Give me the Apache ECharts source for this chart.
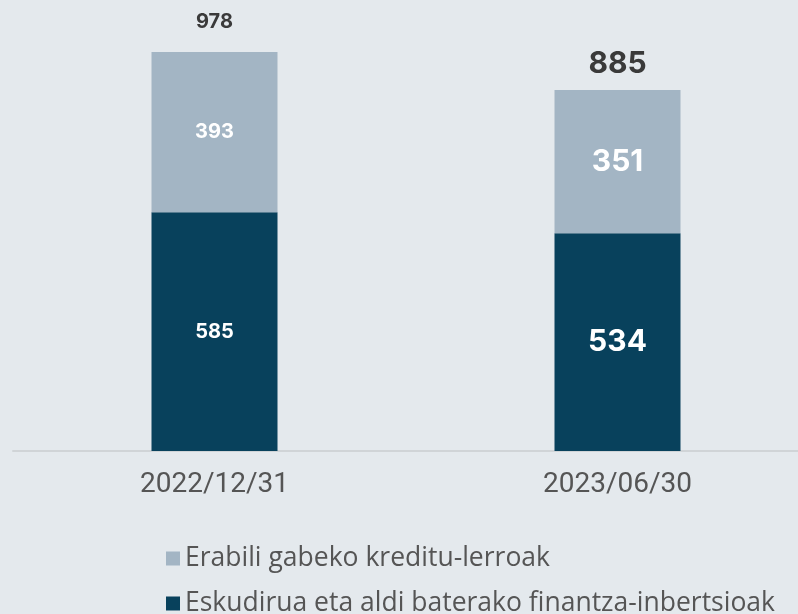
<!DOCTYPE html>
<html>
<head>
<meta charset="utf-8">
<script src="https://cdn.jsdelivr.net/npm/echarts@6/dist/echarts.min.js"></script>
<style>
  html, body { margin: 0; padding: 0; background: #e4e9ed; }
  #chart { width: 798px; height: 614px; }
</style>
</head>
<body>
<div id="chart"></div>
<script>
var categories = ['2022/12/31', '2023/06/30']
var cashValues = [585, 534]
var creditValues = [393, 351]
var totals = [978, 885]
var seriesNames = ['Eskudirua eta aldi baterako finantza-inbertsioak', 'Erabili gabeko kreditu-lerroak']

var labelSizes = [20, 30] // first bar uses smaller labels
var font = 'Inter, "Noto Sans", sans-serif'

function inner (vals) {
  return vals.map(function (v, i) {
    return { value: v, label: { fontSize: labelSizes[i] } }
  })
}

var legendBase = {
  left: 161,
  itemWidth: 14,
  itemHeight: 14,
  icon: 'rect',
  textStyle: { fontSize: 26.5, color: '#555', fontFamily: '"Open Sans", sans-serif', padding: [0, 0, 0, 0] }
}

var chart = echarts.init(document.getElementById('chart'))
chart.setOption({
  backgroundColor: '#e4e9ed',
  animation: false,
  grid: { left: 13, width: 806, top: 43, bottom: 163, outerBoundsMode: 'none', containLabel: false },
  legend: [
    Object.assign({ top: 540, data: [seriesNames[1]] }, legendBase),
    Object.assign({ top: 585, data: [seriesNames[0]] }, legendBase)
  ],
  xAxis: {
    type: 'category',
    data: categories,
    axisTick: { show: false },
    axisLine: { lineStyle: { color: '#d0d4d7', width: 2 } },
    axisLabel: { fontSize: 28, color: '#555', margin: 20, fontFamily: 'Roboto, sans-serif' }
  },
  yAxis: {
    type: 'value',
    min: 0,
    max: 1000,
    show: false,
    splitLine: { show: false }
  },
  series: [
    {
      name: seriesNames[0],
      type: 'bar',
      stack: 'total',
      barWidth: 126,
      itemStyle: { color: '#08415c' },
      label: { show: true, position: 'inside', color: '#fff', fontWeight: 'bold', fontFamily: font },
      data: inner(cashValues)
    },
    {
      name: seriesNames[1],
      type: 'bar',
      stack: 'total',
      barWidth: 126,
      itemStyle: { color: '#a3b5c4' },
      label: { show: true, position: 'inside', color: '#fff', fontWeight: 'bold', fontFamily: font },
      data: inner(creditValues)
    },
    {
      name: 'total',
      type: 'bar',
      stack: 'total',
      barWidth: 126,
      silent: true,
      itemStyle: { color: 'transparent' },
      data: totals.map(function (t, i) {
        return {
          value: 0,
          label: {
            show: true,
            position: 'top',
            distance: i === 0 ? 20 : 11,
            fontSize: labelSizes[i],
            formatter: String(t)
          }
        }
      }),
      label: { color: '#3a3a3a', fontWeight: 'bold', fontFamily: font }
    }
  ]
})
</script>
</body>
</html>
